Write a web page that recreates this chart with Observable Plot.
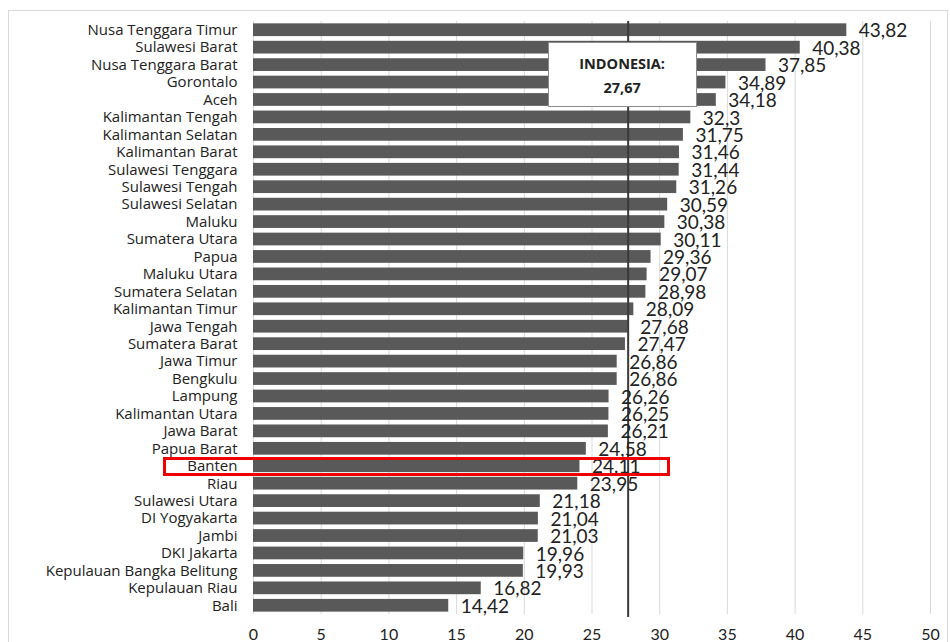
<!DOCTYPE html>
<html>
<head>
<meta charset="utf-8">
<script src="https://cdn.jsdelivr.net/npm/d3@7"></script>
<script src="https://cdn.jsdelivr.net/npm/@observablehq/plot@0.6"></script>
<style>
  body { margin: 0; background: #fff; }
  #wrap { position: relative; width: 950px; height: 642px; overflow: hidden; }
  #frame { position: absolute; left: 8px; top: 10px; width: 940px; height: 640px; border: 1px solid #d9d9d9; box-sizing: border-box; pointer-events: none; }
  .note { position: absolute; background: #fff; border: 1px solid #8c8c8c; box-sizing: border-box;
          font: bold 14.5px "Open Sans", sans-serif; color: #222; text-align: center; line-height: 24px; padding-top: 9px; }
  .mark { position: absolute; border: 3px solid #f00000; box-sizing: border-box; }
</style>
</head>
<body>
<div id="wrap"><div id="frame"></div></div>
<script>
// Provinces, ordered from highest to lowest value
const regions = [
  "Nusa Tenggara Timur", "Sulawesi Barat", "Nusa Tenggara Barat", "Gorontalo", "Aceh",
  "Kalimantan Tengah", "Kalimantan Selatan", "Kalimantan Barat", "Sulawesi Tenggara", "Sulawesi Tengah",
  "Sulawesi Selatan", "Maluku", "Sumatera Utara", "Papua", "Maluku Utara",
  "Sumatera Selatan", "Kalimantan Timur", "Jawa Tengah", "Sumatera Barat", "Jawa Timur",
  "Bengkulu", "Lampung", "Kalimantan Utara", "Jawa Barat", "Papua Barat",
  "Banten", "Riau", "Sulawesi Utara", "DI Yogyakarta", "Jambi",
  "DKI Jakarta", "Kepulauan Bangka Belitung", "Kepulauan Riau", "Bali"
];
const values = [
  43.82, 40.38, 37.85, 34.89, 34.18,
  32.3, 31.75, 31.46, 31.44, 31.26,
  30.59, 30.38, 30.11, 29.36, 29.07,
  28.98, 28.09, 27.68, 27.47, 26.86,
  26.86, 26.26, 26.25, 26.21, 24.58,
  24.11, 23.95, 21.18, 21.04, 21.03,
  19.96, 19.93, 16.82, 14.42
];
const xTicks = [0, 5, 10, 15, 20, 25, 30, 35, 40, 45, 50];
const national = 27.67;
const nationalLabel = "INDONESIA:";
const highlighted = "Banten";

const data = regions.map((region, i) => ({region, value: values[i]}));
const fmt = d => d.region === highlighted ? String(d.value) : String(d.value).replace(".", ",");

const chart = Plot.plot({
  width: 950,
  height: 642,
  marginLeft: 253,
  marginRight: 20,
  marginTop: 21,
  marginBottom: 28,
  style: {fontFamily: "Lato, sans-serif", color: "#222", background: "transparent"},
  x: {domain: [0, 50]},
  y: {domain: regions, paddingInner: 0.27, paddingOuter: 0.135, round: false},
  marks: [
    Plot.gridX(xTicks, {stroke: "#d9d9d9", strokeOpacity: 1, strokeWidth: 1}),
    Plot.ruleY([0], {frameAnchor: "bottom", stroke: "#d9d9d9"}),
    Plot.barX(data, {y: "region", x: "value", fill: "#595959"}),
    Plot.ruleX([national], {stroke: "#3a3a3a", strokeWidth: 2, insetBottom: -3}),
    Plot.text(data, {y: "region", x: "value", text: fmt, textAnchor: "start", dx: 12, dy: 1,
                     fontSize: 19, fill: "#222"}),
    Plot.axisY({tickSize: 0, tickPadding: 16, fontSize: 15, fontFamily: "Open Sans, sans-serif", label: null}),
    Plot.axisX({ticks: xTicks, tickSize: 0, tickPadding: 14, fontSize: 16, label: null, tickFormat: d => String(d)})
  ]
});
document.getElementById("wrap").prepend(chart);

// National average callout and highlighted row, placed from the chart's own scales
const xs = chart.scale("x"), ys = chart.scale("y");
const cx = xs.apply(national);
const note = document.createElement("div");
note.className = "note";
note.style.left = (cx - 80) + "px";
note.style.top = (ys.apply(regions[1]) + 1) + "px";
note.style.width = "149px";
note.style.height = "65px";
note.innerHTML = nationalLabel + "<br>" + String(national).replace(".", ",");
document.getElementById("wrap").appendChild(note);

const band = ys.apply(highlighted);
const bw = ys.bandwidth;
const box = document.createElement("div");
box.className = "mark";
box.style.left = (xs.apply(0) - 90) + "px";
box.style.top = (band + bw / 2 - 9) + "px";
box.style.width = (xs.apply(national) + 42 - (xs.apply(0) - 90)) + "px";
box.style.height = "19px";
document.getElementById("wrap").appendChild(box);
</script>
</body>
</html>
